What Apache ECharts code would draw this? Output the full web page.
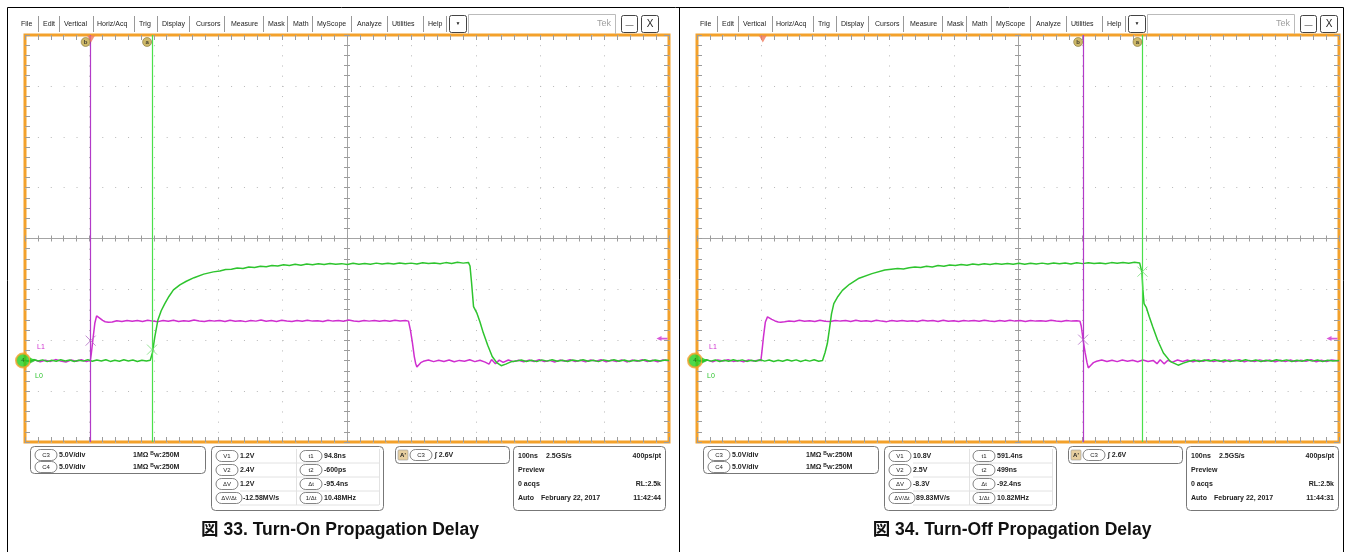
<!DOCTYPE html>
<html><head><meta charset="utf-8">
<script src="https://cdn.jsdelivr.net/npm/echarts@6.0.0/dist/echarts.min.js"></script>
<style>html,body{margin:0;padding:0;background:#fff}#c{width:1351px;height:552px}</style>
</head><body><div id="c"></div>
<script>
// ---------------- DATA ----------------
const captions = ['図 33. Turn-On Propagation Delay', '図 34. Turn-Off Propagation Delay'];
const menuLabels = ['File','Edit','Vertical','Horiz/Acq','Trig','Display','Cursors','Measure','Mask','Math','MyScope','Analyze','Utilities','Help'];
const timeRangeNs = [-102.5, 897.5];   // 100 ns/div, 10 div
const voltRange = [-8, 32];            // 5 V/div, 8 div
const horizDivs = 10, vertDivs = 8;

// C3 (magenta) and C4 (green) traces, [time ns, volts]
const c3TurnOn = [[-102.5,0.0],[-95,-0.1],[-87,0.06],[-79,-0.12],[-71,0.04],[-63,-0.08],[-55,0.1],[-47,-0.05],[-39,-0.14],[-31,0.05],[-23,-0.06],[-15,0.08],[-7,-0.1],[-1,0.02],
[0.5,0.7],[3,2.1],[6,3.7],[8.7,4.4],[11,4.35],[14,4.15],[18,3.95],[22,3.82],[27,3.76],[33,3.8],
[40,3.92],[48,3.85],[56,3.95],[64,3.86],[72,3.93],[80,3.84],[88,3.96],[96,3.88],[104,3.83],[112,3.94],[120,3.87],[128,3.97],[136,3.85],[144,3.92],[152,3.86],[160,3.98],[168,3.89],[176,3.84],[184,3.95],[192,3.88],[200,3.93],[208,3.84],[216,3.96],[224,3.87],[232,3.91],[240,3.83],[248,3.95],[256,3.88],[264,3.98],[272,3.86],[280,3.93],[288,3.85],[296,3.96],[304,3.89],[312,3.84],[320,3.94],[328,3.87],[336,3.97],[344,3.88],[352,3.92],[360,3.85],[368,3.96],[376,3.88],[384,3.93],[392,3.86],[400,3.98],[408,3.9],[416,3.85],[424,3.94],[432,3.88],[440,3.95],[448,3.87],[456,3.93],[464,3.86],[472,3.96],[480,3.9],[488,3.93],[493,3.88],
[496,3.0],[499,1.8],[502,0.4],[504,-0.25],[506,-0.62],[509,-0.45],[512,-0.2],[516,-0.07],
[524,0.05],[532,-0.1],[540,0.03],[548,-0.08],[556,0.06],[564,-0.12],[572,0.02],[580,-0.06],[588,0.08],[596,-0.1],[604,0.04],[612,-0.15],[618,-0.35],[622,0.1],[628,-0.3],[634,0.05],[640,-0.18],[648,0.06],[656,-0.1],[664,0.04],[672,-0.12],[680,0.05],[688,-0.08],[696,0.08],[704,-0.1],[712,0.02],[720,-0.14],[728,0.05],[736,-0.07],[744,0.09],[752,-0.1],[760,0.03],[768,-0.12],[776,0.06],[784,-0.05],[792,0.08],[800,-0.11],[808,0.04],[816,-0.09],[824,0.07],[832,-0.13],[840,0.05],[848,-0.06],[856,0.08],[864,-0.1],[872,0.03],[880,-0.12],[888,0.06],[897.5,-0.02]];

const c4TurnOn = [[-102.5,0.05],[-96,-0.08],[-89,0.1],[-82,-0.04],[-75,0.07],[-68,-0.1],[-61,0.03],[-54,-0.06],[-47,0.09],[-40,-0.03],[-33,0.06],[-26,-0.09],[-19,0.04],[-12,-0.05],[-5,0.08],[2,-0.07],[9,0.05],[16,-0.04],[23,0.09],[30,-0.08],[37,0.03],[44,-0.06],[51,0.08],[58,-0.03],[65,0.06],[72,-0.09],[79,0.04],[86,-0.05],[92,0.03],
[95.5,0.8],[99,2.3],[103.9,4.0],[109,4.9],[114.6,5.6],[121,6.3],[128,6.95],[138,7.45],[148,7.8],[160,8.15],[175,8.5],[190,8.72],[200,8.8],[209,8.95],
[218,8.98],[227,9.1],[236,9.05],[245,9.2],[254,9.15],[263,9.28],[272,9.22],[281,9.35],[290,9.3],[299,9.42],[308,9.35],[317,9.46],[326,9.38],[335,9.5],[344,9.42],[353,9.52],[362,9.44],[371,9.55],[380,9.46],[389,9.53],[398,9.45],[407,9.56],[416,9.48],[425,9.55],[434,9.47],[443,9.58],[452,9.5],[461,9.57],[470,9.49],[479,9.6],[488,9.52],[497,9.58],[506,9.5],[515,9.62],[524,9.54],[533,9.6],[542,9.52],[551,9.63],[560,9.55],[569,9.66],[578,9.58],[586,9.65],
[588.5,9.3],[591,7.6],[594,5.3],[599,4.7],[604,3.8],[609,2.75],[616,1.5],[623,0.4],[630,-0.2],[637,-0.5],[644,-0.35],[652,-0.12],[660,-0.05],
[668,0.06],[676,-0.08],[684,0.04],[692,-0.1],[700,0.07],[708,-0.05],[716,0.09],[724,-0.07],[732,0.03],[740,-0.09],[748,0.06],[756,-0.04],[764,0.08],[772,-0.06],[780,0.04],[788,-0.1],[796,0.07],[804,-0.03],[812,0.09],[820,-0.06],[828,0.05],[836,-0.08],[844,0.03],[852,-0.05],[860,0.08],[868,-0.07],[876,0.05],[884,-0.04],[892,0.06],[897.5,0.0]];

const c3TurnOff = [[-102.5,0.03],[-94,-0.09],[-86,0.05],[-78,-0.11],[-70,0.07],[-62,-0.04],[-54,0.09],[-46,-0.08],[-38,0.02],[-30,-0.12],[-22,0.06],[-14,-0.05],[-7,0.04],[-3,0.0],
[-1.5,0.8],[1,2.3],[4,3.8],[7.3,4.3],[10,4.25],[14,4.05],[19,3.9],[24,3.8],[28,3.78],[34,3.82],
[41,3.9],[49,3.84],[57,3.96],[65,3.87],[73,3.92],[81,3.85],[89,3.97],[97,3.86],[105,3.84],[113,3.95],[121,3.88],[129,3.93],[137,3.84],[145,3.96],[153,3.87],[161,3.92],[169,3.85],[177,3.97],[185,3.88],[193,3.83],[201,3.94],[209,3.87],[217,3.95],[225,3.86],[233,3.92],[241,3.84],[249,3.96],[257,3.89],[265,3.93],[273,3.85],[281,3.97],[289,3.87],[297,3.92],[305,3.84],[313,3.95],[321,3.88],[329,3.93],[337,3.86],[345,3.97],[353,3.89],[361,3.84],[369,3.94],[377,3.87],[385,3.96],[393,3.88],[401,3.93],[409,3.85],[417,3.95],[425,3.88],[433,3.92],[441,3.86],[449,3.96],[457,3.89],[465,3.84],[473,3.94],[481,3.88],[489,3.92],[494,3.88],
[496,3.4],[499,2.0],[502,0.8],[505,-0.2],[507,-0.72],[511,-0.45],[515,-0.2],[520,-0.07],
[528,0.06],[536,-0.09],[544,0.04],[552,-0.1],[560,0.05],[568,-0.07],[576,0.03],[584,-0.11],[592,0.06],[600,-0.08],[608,0.02],[614,-0.3],[619,0.08],[625,-0.32],[631,0.04],[638,-0.15],[646,0.06],[654,-0.09],[662,0.05],[670,-0.12],[678,0.03],[686,-0.07],[694,0.08],[702,-0.1],[710,0.04],[718,-0.13],[726,0.06],[734,-0.05],[742,0.08],[750,-0.11],[758,0.02],[766,-0.09],[774,0.07],[782,-0.06],[790,0.05],[798,-0.12],[806,0.04],[814,-0.08],[822,0.06],[830,-0.1],[838,0.03],[846,-0.07],[854,0.09],[862,-0.11],[870,0.04],[878,-0.08],[886,0.06],[897.5,-0.03]];

const c4TurnOff = [[-102.5,0.04],[-95,-0.07],[-88,0.09],[-81,-0.05],[-74,0.06],[-67,-0.09],[-60,0.04],[-53,-0.07],[-46,0.08],[-39,-0.04],[-32,0.07],[-25,-0.08],[-18,0.03],[-11,-0.06],[-4,0.09],[3,-0.05],[10,0.06],[17,-0.08],[24,0.04],[31,-0.06],[38,0.08],[45,-0.04],[52,0.07],[59,-0.09],[66,0.05],[73,-0.05],[80,0.08],[87,-0.06],[93,0.02],
[94,0.1],[97,0.8],[100.6,1.7],[104,3.2],[107,4.6],[110.6,5.6],[117,6.3],[124,6.9],[135,7.5],[150,8.1],[170,8.55],[190,8.9],[210,9.05],
[219,9.0],[228,9.12],[237,9.2],[246,9.14],[255,9.27],[264,9.2],[273,9.34],[282,9.28],[291,9.4],[300,9.34],[309,9.45],[318,9.38],[327,9.49],[336,9.41],[345,9.52],[354,9.44],[363,9.54],[372,9.46],[381,9.55],[390,9.47],[399,9.56],[408,9.48],[417,9.57],[426,9.5],[435,9.58],[444,9.49],[453,9.6],[462,9.51],[471,9.59],[480,9.5],[489,9.61],[498,9.53],[507,9.62],[516,9.54],[525,9.6],[534,9.52],[543,9.63],[552,9.56],[561,9.64],[570,9.57],[579,9.66],[587,9.6],
[589,9.55],[590.5,8.7],[592,7.0],[593.8,5.6],[597.5,5.2],[602,4.3],[607.5,3.3],[615,2.0],[624,0.75],[635,-0.1],[647,-0.45],[655,-0.25],[664,-0.07],
[672,0.05],[680,-0.09],[688,0.06],[696,-0.04],[704,0.08],[712,-0.07],[720,0.05],[728,-0.1],[736,0.04],[744,-0.06],[752,0.08],[760,-0.05],[768,0.06],[776,-0.09],[784,0.03],[792,-0.06],[800,0.08],[808,-0.04],[816,0.07],[824,-0.08],[832,0.04],[840,-0.06],[848,0.09],[856,-0.05],[864,0.06],[872,-0.08],[880,0.04],[888,-0.05],[897.5,0.01]];

const c3Traces = [c3TurnOn, c3TurnOff];
const c4Traces = [c4TurnOn, c4TurnOff];

// cursors (ns) and the cursor/trace crossing marks (ns, V)
const cursorA = [94.8, 591.4];
const cursorB = [-0.6, 499];
const crossC3 = [[-0.6, 1.96], [499, 2.06]];
const crossC4 = [[94.8, 1.08], [591.4, 8.74]];
const triggerTime = [0, 0];
const triggerLevelMark = [2.16, 2.16];

// readouts
const chanReadout = [['C3','5.0V/div'],['C4','5.0V/div']];
const chanImpedance = '1MΩ';
const chanBandwidth = ':250M';
const cursorReadouts = [
  [['V1','1.2V','t1','94.8ns'],['V2','2.4V','t2','-600ps'],['ΔV','1.2V','Δt','-95.4ns'],['ΔV/Δt','-12.58MV/s','1/Δt','10.48MHz']],
  [['V1','10.8V','t1','591.4ns'],['V2','2.5V','t2','499ns'],['ΔV','-8.3V','Δt','-92.4ns'],['ΔV/Δt','89.83MV/s','1/Δt','10.82MHz']]
];
const triggerReadout = ['A\'', 'C3', '2.6V'];
const horizReadout = ['100ns','2.5GS/s','400ps/pt','Preview','0 acqs','RL:2.5k','Auto','February 22, 2017'];
const clockTimes = ['11:42:44','11:44:31'];

// ---------------- LAYOUT / STYLE ----------------
const FONT = '"Liberation Sans", Arial, sans-serif';
const MAGENTA = '#cf2fcf', GREEN = '#2ec42e', ORANGE = '#f3a12b';
const GRIDS = [{left:25, top:35, width:644, height:407}, {left:697, top:35, width:642, height:407}];
const PANEL_X = [0, 679];      // menu bar offset
const BOX_X = [0, 673];        // readout boxes offset
const CAPTION_X = [340, 1012];
const menuX = [21,43,64,97,139,162,196,231,268,293,317,357,392,428];
const menuSepX = [38,59,93,134,157,189,224,263,287,312,351,387,423,446];

const chart = echarts.init(document.getElementById('c'), null, {width:1351, height:552});

const xAxes = [], yAxes = [];
const tickStyle = {color:'#9c9c9c', width:1};
GRIDS.forEach((g, p) => {
  const b = p*5;
  const dotV = g.height/(vertDivs*5), dotH = g.width/(horizDivs*5);
  const hide = {axisLabel:{show:false}};
  xAxes.push({gridIndex:p, type:'value', min:0, max:horizDivs, interval:1, position:'bottom', ...hide,
    axisLine:{show:false, onZero:false}, axisTick:{inside:true, length:5, lineStyle:tickStyle},
    minorTick:{show:true, splitNumber:5, length:5, lineStyle:tickStyle},
    splitLine:{show:true, lineStyle:{color:'#b8b8b8', width:1, type:[1, dotV-1]}}});
  xAxes.push({gridIndex:p, type:'value', min:0, max:horizDivs, interval:1, position:'top', ...hide,
    axisLine:{show:false, onZero:false}, axisTick:{inside:true, length:5, lineStyle:tickStyle},
    minorTick:{show:true, splitNumber:5, length:5, lineStyle:tickStyle}, splitLine:{show:false}});
  xAxes.push({gridIndex:p, type:'value', min:-horizDivs/2, max:horizDivs/2, interval:1, position:'bottom', ...hide,
    axisLine:{show:true, onZero:true, onZeroAxisIndex:b+2, lineStyle:{color:'#a4a4a4', width:1}},
    axisTick:{inside:true, length:3, lineStyle:tickStyle}, minorTick:{show:true, splitNumber:5, length:3, lineStyle:tickStyle}, splitLine:{show:false}});
  xAxes.push({gridIndex:p, type:'value', min:-horizDivs/2, max:horizDivs/2, interval:1, position:'bottom', ...hide,
    axisLine:{show:false, onZero:true, onZeroAxisIndex:b+3},
    axisTick:{inside:false, length:3, lineStyle:tickStyle}, minorTick:{show:true, splitNumber:5, length:3, lineStyle:tickStyle}, splitLine:{show:false}});
  xAxes.push({gridIndex:p, type:'value', min:timeRangeNs[0], max:timeRangeNs[1], show:false, axisLine:{onZero:false}, splitLine:{show:false}});
  yAxes.push({gridIndex:p, type:'value', min:0, max:vertDivs, interval:1, position:'left', ...hide,
    axisLine:{show:false, onZero:false}, axisTick:{inside:true, length:5, lineStyle:tickStyle},
    minorTick:{show:true, splitNumber:5, length:5, lineStyle:tickStyle},
    splitLine:{show:true, lineStyle:{color:'#b8b8b8', width:1, type:[1, dotH-1]}}});
  yAxes.push({gridIndex:p, type:'value', min:0, max:vertDivs, interval:1, position:'right', ...hide,
    axisLine:{show:false, onZero:false}, axisTick:{inside:true, length:5, lineStyle:tickStyle},
    minorTick:{show:true, splitNumber:5, length:5, lineStyle:tickStyle}, splitLine:{show:false}});
  yAxes.push({gridIndex:p, type:'value', min:-vertDivs/2, max:vertDivs/2, interval:1, position:'left', ...hide,
    axisLine:{show:true, onZero:true, onZeroAxisIndex:b+2, lineStyle:{color:'#a4a4a4', width:1}},
    axisTick:{inside:true, length:3, lineStyle:tickStyle}, minorTick:{show:true, splitNumber:5, length:3, lineStyle:tickStyle}, splitLine:{show:false}});
  yAxes.push({gridIndex:p, type:'value', min:-vertDivs/2, max:vertDivs/2, interval:1, position:'left', ...hide,
    axisLine:{show:false, onZero:true, onZeroAxisIndex:b+3},
    axisTick:{inside:false, length:3, lineStyle:tickStyle}, minorTick:{show:true, splitNumber:5, length:3, lineStyle:tickStyle}, splitLine:{show:false}});
  yAxes.push({gridIndex:p, type:'value', min:voltRange[0], max:voltRange[1], show:false, axisLine:{onZero:false}, splitLine:{show:false}});
});

const series = [];
GRIDS.forEach((g, p) => {
  const xi = p*5+4, yi = p*5+4;
  series.push({type:'line', xAxisIndex:xi, yAxisIndex:yi, data:[], silent:true, z:2,
    markLine:{silent:true, symbol:'none', label:{show:false}, animation:false,
      data:[{xAxis:cursorB[p], lineStyle:{color:'#b23ac8', width:1.2, type:'solid'}},
            {xAxis:cursorA[p], lineStyle:{color:'#4be04b', width:1.2, type:'solid'}}]}});
  series.push({type:'line', xAxisIndex:xi, yAxisIndex:yi, data:c3Traces[p], showSymbol:false, animation:false,
    lineStyle:{color:MAGENTA, width:1.5}, z:3});
  series.push({type:'line', xAxisIndex:xi, yAxisIndex:yi, data:c4Traces[p], showSymbol:false, animation:false,
    lineStyle:{color:GREEN, width:1.5}, z:4});
  series.push({type:'scatter', xAxisIndex:xi, yAxisIndex:yi, z:5, animation:false, symbol:'path://M0,0L10,10M10,0L0,10', symbolSize:10,
    data:[{value:crossC3[p], itemStyle:{color:'rgba(0,0,0,0)', borderColor:'#b26cc4', borderWidth:1}},
          {value:crossC4[p], itemStyle:{color:'rgba(0,0,0,0)', borderColor:'#79dc79', borderWidth:1}}]});
  series.push({type:'scatter', xAxisIndex:xi, yAxisIndex:yi, z:6, animation:false, clip:false, symbol:'circle', symbolSize:9, symbolOffset:[-5,7],
    itemStyle:{color:'#c2a744', borderColor:'#6b5a1e', borderWidth:0.6},
    label:{show:true, position:'inside', formatter:(d)=>d.data[2], fontSize:6, fontFamily:FONT, color:'#222', fontWeight:'bold'},
    data:[[cursorB[p], voltRange[1], 'b'], [cursorA[p], voltRange[1], 'a']]});
  series.push({type:'scatter', xAxisIndex:xi, yAxisIndex:yi, z:7, animation:false, clip:false, symbol:'triangle', symbolRotate:180,
    symbolSize:[8,7], symbolOffset:[0,4], itemStyle:{color:'#f0785a'}, data:[[triggerTime[p], voltRange[1]]]});
  series.push({type:'scatter', xAxisIndex:xi, yAxisIndex:yi, z:8, animation:false, clip:false, symbol:'circle', symbolSize:14, symbolOffset:[-2,0],
    itemStyle:{color:'#1fd01f', borderColor:ORANGE, borderWidth:2},
    label:{show:true, position:'inside', formatter:'4', fontSize:6, fontFamily:FONT, color:'#135013'},
    data:[[timeRangeNs[0], 0]]});
  series.push({type:'scatter', xAxisIndex:xi, yAxisIndex:yi, z:8, animation:false, clip:false, symbol:'triangle', symbolRotate:-90,
    symbolSize:[6,6], symbolOffset:[8,0], itemStyle:{color:'#1fd01f'}, data:[[timeRangeNs[0], 0]]});
  series.push({type:'scatter', xAxisIndex:xi, yAxisIndex:yi, z:8, animation:false, clip:false,
    symbol:'path://M0,3L5,0L5,2L11,2L11,4L5,4L5,6Z', symbolSize:[11,5], symbolOffset:[-7,0],
    itemStyle:{color:MAGENTA}, data:[[timeRangeNs[1], triggerLevelMark[p]]]});
});

// ---------- chrome (menu bar, readout boxes, captions) ----------
const graphics = [];
const T = (x, y, text, o={}) => ({type:'text', x, y, silent:true, z:10, style:Object.assign({text, fontFamily:FONT, fontSize:7, fill:'#222', textVerticalAlign:'middle'}, o)});
const R = (x, y, w, h, r, o={}) => ({type:'rect', silent:true, z:9, shape:{x, y, width:w, height:h, r}, style:Object.assign({fill:'#fff', stroke:'#777', lineWidth:1}, o)});
const L = (x1, y1, x2, y2, o={}) => ({type:'line', silent:true, z:9, shape:{x1, y1, x2, y2}, style:Object.assign({stroke:'#888', lineWidth:1}, o)});
const pill = (x, y, w, text) => [R(x, y-5.5, w, 11, 5.5, {stroke:'#666', lineWidth:0.8}), T(x+w/2, y, text, {textAlign:'center', fontSize:6})];

graphics.push(R(7.5, 7.5, 1336, 560, 0, {fill:null, stroke:'#000', lineWidth:1}));
graphics.push(L(679.5, 7, 679.5, 552, {stroke:'#000'}));

[0,1].forEach(p => {
  const ox = PANEL_X[p];
  menuLabels.forEach((m, i) => graphics.push(T(ox+menuX[i], 24, m)));
  menuSepX.forEach(sx => graphics.push(L(ox+sx+0.5, 16, ox+sx+0.5, 32, {stroke:'#999'})));
  graphics.push(R(ox+449.5, 15.5, 17, 17, 2, {stroke:'#444'}));
  graphics.push(T(ox+458, 24, '▼', {textAlign:'center', fontSize:5}));
  graphics.push(L(ox+468.5, 14.5, ox+615.5, 14.5, {stroke:'#bbb'}));
  graphics.push(L(ox+468.5, 14.5, ox+468.5, 34, {stroke:'#bbb'}));
  graphics.push(L(ox+615.5, 14.5, ox+615.5, 34, {stroke:'#bbb'}));
  graphics.push(T(ox+611, 24, 'Tek', {textAlign:'right', fontSize:9, fill:'#a0a0a0'}));
  graphics.push(R(ox+621.5, 15.5, 16, 17, 2, {stroke:'#444'}));
  graphics.push(T(ox+629.5, 25, '—', {textAlign:'center', fontSize:8}));
  graphics.push(R(ox+641.5, 15.5, 17, 17, 2, {stroke:'#444'}));
  graphics.push(T(ox+650, 24, 'X', {textAlign:'center', fontSize:10}));
  const gx = GRIDS[p].left;
  graphics.push(T(gx+12, 347, 'L1', {fill:MAGENTA, fontSize:7}));
  graphics.push(T(gx+10, 376, 'L0', {fill:GREEN, fontSize:7}));

  const bx = BOX_X[p];
  graphics.push(R(bx+30.5, 446.5, 175, 27, 4));
  chanReadout.forEach((c, i) => {
    const y = 455 + i*12;
    graphics.push(...pill(bx+35, y, 22, c[0]));
    graphics.push(T(bx+59, y, c[1], {fontWeight:'bold'}));
    graphics.push(T(bx+133, y, '{n|' + chanImpedance + ' }{s|B}{w|W}{n|' + chanBandwidth + '}', {fontWeight:'bold',
      rich:{n:{fontSize:7, fontWeight:'bold', fontFamily:FONT}, s:{fontSize:5, fontWeight:'bold', verticalAlign:'top', fontFamily:FONT}, w:{fontSize:6, fontWeight:'bold', verticalAlign:'bottom', fontFamily:FONT}}}));
  });
  graphics.push(R(bx+211.5, 446.5, 172, 64, 4));
  cursorReadouts[p].forEach((row, i) => {
    const y = 456 + i*14;
    graphics.push(L(bx+240, y+7, bx+379, y+7, {stroke:'#e2e2e2'}));
    graphics.push(...pill(bx+216, y, row[0].length > 2 ? 26 : 22, row[0]));
    graphics.push(T(bx+(row[0].length > 2 ? 243 : 240), y, row[1], {fontWeight:'bold'}));
    graphics.push(...pill(bx+300, y, 22, row[2]));
    graphics.push(T(bx+324, y, row[3], {fontWeight:'bold'}));
  });
  graphics.push(L(bx+296.5, 449, bx+296.5, 505, {stroke:'#e2e2e2'}));
  graphics.push(L(bx+379.5, 449, bx+379.5, 505, {stroke:'#e2e2e2'}));
  graphics.push(R(bx+395.5, 446.5, 114, 17, 4));
  graphics.push(R(bx+398, 450, 10, 10, 1, {fill:'#e7cfa0', stroke:'#999', lineWidth:0.6}));
  graphics.push(T(bx+403, 455, triggerReadout[0], {textAlign:'center', fontSize:6, fontWeight:'bold'}));
  graphics.push(...pill(bx+410, 455, 22, triggerReadout[1]));
  graphics.push(T(bx+435, 455, '∫ ' + triggerReadout[2], {fontWeight:'bold'}));
  graphics.push(R(bx+513.5, 446.5, 152, 64, 4));
  graphics.push(T(bx+518, 456, horizReadout[0], {fontWeight:'bold'}));
  graphics.push(T(bx+546, 456, horizReadout[1], {fontWeight:'bold'}));
  graphics.push(T(bx+661, 456, horizReadout[2], {fontWeight:'bold', textAlign:'right'}));
  graphics.push(T(bx+518, 470, horizReadout[3], {fontWeight:'bold'}));
  graphics.push(T(bx+518, 484, horizReadout[4], {fontWeight:'bold'}));
  graphics.push(T(bx+661, 484, horizReadout[5], {fontWeight:'bold', textAlign:'right'}));
  graphics.push(T(bx+518, 498, horizReadout[6], {fontWeight:'bold'}));
  graphics.push(T(bx+541, 498, horizReadout[7], {fontWeight:'bold'}));
  graphics.push(T(bx+661, 498, clockTimes[p], {fontWeight:'bold', textAlign:'right'}));
  graphics.push(T(CAPTION_X[p], 530, captions[p], {textAlign:'center', fontSize:17.5, fontWeight:'bold', fill:'#111',
    fontFamily:'"Liberation Sans", Arial, "Noto Sans CJK JP", sans-serif'}));
});

chart.setOption({
  animation:false,
  backgroundColor:'#fff',
  grid: GRIDS.map(g => Object.assign({show:true, borderColor:ORANGE, borderWidth:3, backgroundColor:'#fff', containLabel:false}, g)),
  xAxis: xAxes,
  yAxis: yAxes,
  series,
  graphic: graphics
});
</script></body></html>
